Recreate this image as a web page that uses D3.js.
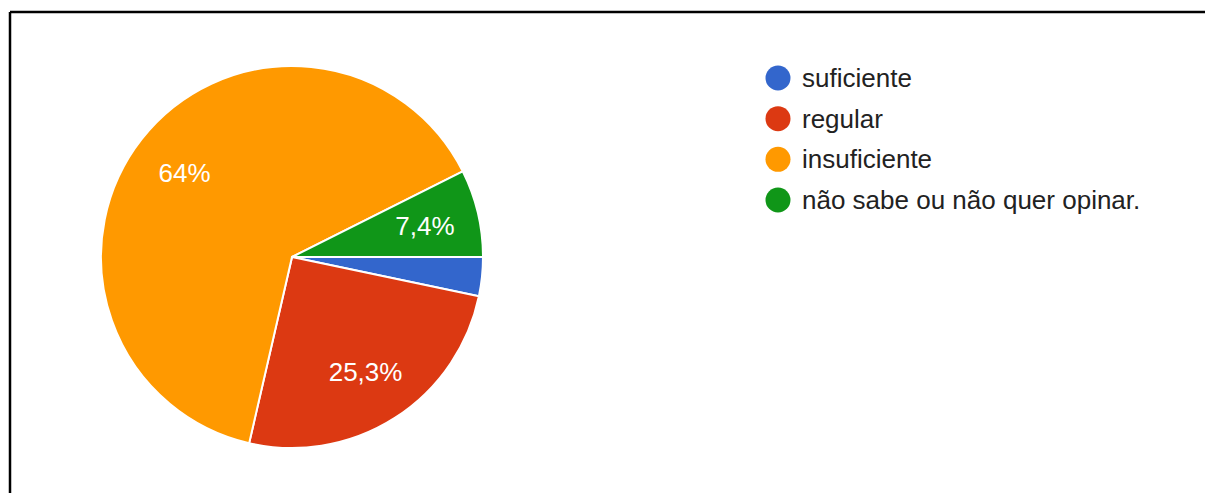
<!DOCTYPE html>
<html>
<head>
<meta charset="utf-8">
<script src="https://cdn.jsdelivr.net/npm/d3@7"></script>
<style>
  html, body { margin: 0; padding: 0; background: #fff; }
  svg { display: block; }
</style>
</head>
<body>
<svg id="chart" width="1205" height="493"></svg>
<script>
// Answer categories and their shares (%)
const categories = ["suficiente", "regular", "insuficiente", "não sabe ou não quer opinar."];
const shares = [3.3, 25.3, 64, 7.4];
const colors = ["#3366cc", "#dc3912", "#ff9900", "#109618"];

const svg = d3.select("#chart");
const W = 1205, H = 493;
const font = "'Liberation Sans', Arial, sans-serif";

// Frame lines (top and left edges)
svg.append("line").attr("x1", 10).attr("y1", 12).attr("x2", W).attr("y2", 12)
  .attr("stroke", "#000").attr("stroke-width", 2.5);
svg.append("line").attr("x1", 10).attr("y1", 12).attr("x2", 10).attr("y2", H)
  .attr("stroke", "#000").attr("stroke-width", 2.5);

const cx = 292, cy = 257, r = 191;

const color = d3.scaleOrdinal().domain(categories).range(colors);

const data = categories.map((c, i) => ({ cat: c, value: shares[i] }));

// Slices run clockwise starting from 3 o'clock
const pie = d3.pie().value(d => d.value).sort(null)
  .startAngle(Math.PI / 2).endAngle(Math.PI / 2 + 2 * Math.PI);
const arc = d3.arc().innerRadius(0).outerRadius(r);
const labelArc = d3.arc().innerRadius(r * 0.715).outerRadius(r * 0.715);

const g = svg.append("g").attr("transform", `translate(${cx},${cy})`);
const arcs = pie(data);

g.selectAll("path.slice").data(arcs).join("path")
  .attr("class", "slice")
  .attr("d", arc)
  .attr("fill", d => color(d.data.cat))
  .attr("stroke", "#fff")
  .attr("stroke-width", 2)
  .attr("stroke-linejoin", "round");

const fmt = v => (Number.isInteger(v) ? String(v) : v.toFixed(1).replace(".", ",")) + "%";

g.selectAll("text.pct").data(arcs.filter(d => d.data.value >= 5)).join("text")
  .attr("class", "pct")
  .attr("transform", d => `translate(${labelArc.centroid(d)})`)
  .attr("text-anchor", "middle")
  .attr("dominant-baseline", "central")
  .attr("font-family", font)
  .attr("font-size", 26)
  .attr("fill", "#fff")
  .text(d => fmt(d.data.value));

// Legend
const legendY = d3.scalePoint().domain(categories).range([78, 200]);
const legend = svg.append("g");
const items = legend.selectAll("g").data(categories).join("g")
  .attr("transform", d => `translate(778,${legendY(d)})`);
items.append("circle").attr("r", 12.5).attr("fill", d => color(d));
items.append("text")
  .attr("x", 24)
  .attr("dominant-baseline", "central")
  .attr("font-family", font)
  .attr("font-size", 26)
  .attr("fill", "#222")
  .text(d => d);
</script>
</body>
</html>
